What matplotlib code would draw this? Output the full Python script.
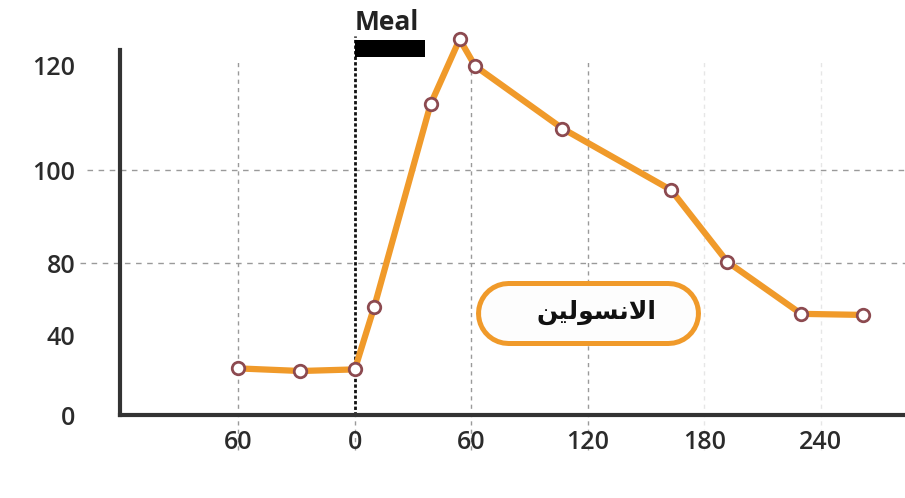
import numpy as np
import matplotlib.pyplot as plt
from matplotlib.patches import Rectangle
from matplotlib.lines import Line2D
from matplotlib.transforms import IdentityTransform

# data (minutes, insulin level)
time_min = [-60, -28, 0, 10, 39, 54, 62, 107, 163, 192, 230, 262]
insulin = [23.3, 22, 22.8, 55.7, 112.5, 124.9, 119.8, 107.9, 95.7, 80.3, 51.8, 51.2]

x_ticks = [-60, 0, 60, 120, 180, 240]
x_tick_labels = ["60", "0", "60", "120", "180", "240"]
y_ticks = [0, 40, 80, 100, 120]
y_tick_labels = ["0", "40", "80", "100", "120"]

meal_start, meal_end = 0, 36
label_text = "\uFEE6\uFEF4\uFEDF\uFEEE\uFEB4\uFEE7\uFEFB\uFE8D"  # الانسولين (pre-shaped)

# the y axis of the original is not linear: map value -> pixel height
ref_vals = [-100, 0, 40, 80, 100, 120, 220]
ref_pix = [-205, 0, 80, 151.7, 245, 350, 875]

def fwd(v):
    return np.interp(v, ref_vals, ref_pix)

def inv(p):
    return np.interp(p, ref_pix, ref_vals)

orange = "#F09A2A"
plt.rcParams["font.family"] = ["Open Sans", "DejaVu Sans"]

fig = plt.figure(figsize=(9.05, 4.98), dpi=100)
ax = fig.add_axes([120 / 905, 83 / 498, 785 / 905, 385 / 498])
ax.set_yscale("function", functions=(fwd, inv))
ax.set_xlim(-121, 283.5)
ax.set_ylim(0, inv(385))

# spines
for s in ["top", "right"]:
    ax.spines[s].set_visible(False)
ax.spines["left"].set_linewidth(3)
ax.spines["left"].set_color("#333333")
ax.spines["left"].set_bounds(0, inv(365))
ax.spines["bottom"].set_linewidth(3)
ax.spines["bottom"].set_color("#333333")

# ticks
ax.set_xticks(x_ticks)
ax.set_xticklabels(x_tick_labels)
ax.set_yticks(y_ticks)
ax.set_yticklabels(y_tick_labels)
ax.tick_params(axis="both", length=0, labelsize=18, colors="#2b2b2b")
ax.tick_params(axis="x", pad=11)
ax.tick_params(axis="y", pad=32)
for lbl in ax.get_xticklabels() + ax.get_yticklabels():
    lbl.set_fontweight("semibold")

# grid lines (they run past the axes a little)
for yv, x0 in [(100, -0.042), (80, -0.051)]:
    ax.axhline(yv, xmin=x0, xmax=1, color="#9a9a9a", lw=1, ls=(0, (4, 4)),
               clip_on=False, zorder=1)
for xv in x_ticks:
    if xv == 0:
        continue
    c = "#9a9a9a" if xv < 180 else "#e6e6e6"
    ax.axvline(xv, ymin=-0.09, ymax=0.92, color=c, lw=1, ls=(0, (3, 3)),
               clip_on=False, zorder=1)
ax.axvline(0, ymin=-0.09, ymax=0, color="#9a9a9a", lw=1, ls=(0, (3, 3)),
           clip_on=False, zorder=1)
ax.axvline(0, ymin=0, ymax=0.985, color="#111111", lw=2, ls=(0, (1.2, 0.8)),
           clip_on=False, zorder=2)

# meal bar
bar_lo, bar_hi = inv(358), inv(375)
ax.add_patch(Rectangle((meal_start, bar_lo), meal_end - meal_start, bar_hi - bar_lo,
                       facecolor="black", edgecolor="none", clip_on=False, zorder=3))
ax.text(16.5, 1.0, "Meal", transform=ax.get_xaxis_transform(),
        ha="center", va="baseline", fontsize=19, fontweight="bold", color="#222222")

# insulin curve
ax.plot(time_min, insulin, color=orange, lw=4.5, zorder=4, clip_on=False,
        solid_joinstyle="round")
ax.plot(time_min, insulin, ls="none", marker="o", ms=9, mfc="white",
        mec="#8c4a50", mew=2, zorder=5, clip_on=False)

# label pill: a thick line with round caps gives a proper stadium shape
px = [475 + 32.5, 700 - 32.5]
py = [185.5, 185.5]
fig.lines.append(Line2D(px, py, transform=IdentityTransform(), color=orange,
                        lw=65 * 0.72, solid_capstyle="round", zorder=6))
fig.lines.append(Line2D(px, py, transform=IdentityTransform(), color="#fdfdfd",
                        lw=55 * 0.72, solid_capstyle="round", zorder=6.5))
fig.text(596 / 905, 186 / 498, label_text, ha="center", va="center",
         fontsize=18, fontweight="bold", family=["DejaVu Sans"], color="#111111", zorder=7)

fig.savefig("out.png", dpi=100)
